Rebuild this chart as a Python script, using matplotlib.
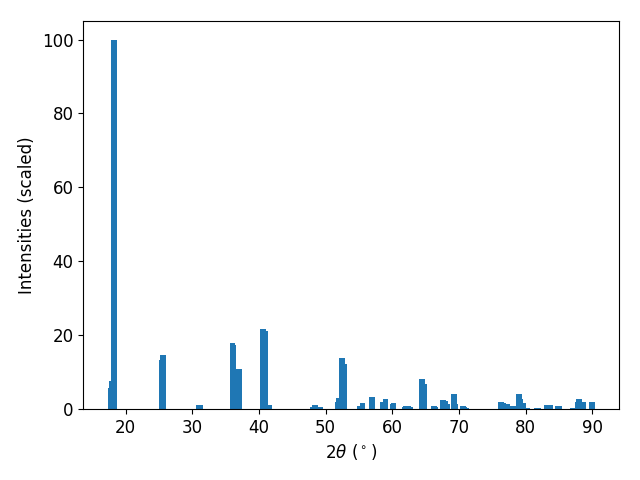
import matplotlib
matplotlib.use("Agg")
import matplotlib.pyplot as plt

# positions des pics (2theta, degres) et intensites relatives
two_theta = [17.70, 17.85, 18.25,
             25.45, 25.60, 25.65,
             30.90, 31.15,
             36.00, 36.24, 36.95, 37.14,
             40.64, 40.90, 41.50,
             48.14, 48.30, 48.53, 49.28,
             51.89, 52.03, 52.49, 52.59, 52.89,
             55.18, 55.58, 56.98,
             58.63, 59.03, 60.13, 60.23,
             61.80, 62.00,
             62.23, 62.38, 62.78,
             64.48, 64.88,
             66.28, 66.53,
             67.63, 68.03, 68.33, 69.28, 69.38, 69.53,
             70.62, 70.87, 71.17,
             76.32, 76.72, 77.32, 77.90, 78.22,
             79.02, 79.27, 79.72, 80.32,
             81.72, 81.97,
             83.22, 83.50, 83.77,
             84.87, 85.12,
             87.12, 87.87, 88.02, 88.12, 88.72,
             89.95]
intensity = [5.7, 7.6, 100.0,
             13.3, 14.6, 13.3,
             1.1, 1.1,
             17.9, 17.4, 10.8, 10.8,
             21.7, 21.0, 1.1,
             0.5, 1.1, 1.1, 0.5,
             1.9, 3.0, 13.8, 13.8, 12.2,
             0.8, 1.6, 3.3,
             1.9, 2.7, 1.3, 1.6,
             0.6, 0.8,
             0.4, 0.8, 0.6,
             8.1, 6.8,
             0.8, 0.6,
             2.4, 2.2, 1.3, 4.0, 4.0, 1.3,
             0.8, 0.6, 0.3,
             1.9, 1.6, 1.3, 0.8, 0.8,
             4.0, 2.7, 1.6, 0.3,
             0.3, 0.3,
             1.1, 1.1, 1.1,
             0.8, 0.8,
             0.3, 1.9, 2.7, 2.2, 1.9,
             1.9]

fig = plt.figure(figsize=(6.4, 4.8), dpi=100)
plt.bar(two_theta, intensity)
plt.xlabel(r"$2\theta$ ($^\circ$)", fontsize=12)
plt.ylabel("Intensities (scaled)", fontsize=12)
plt.xticks(fontsize=12)
plt.yticks(fontsize=12)
plt.subplots_adjust(left=0.13, right=0.967, top=0.956, bottom=0.148)
plt.savefig("out.png")
